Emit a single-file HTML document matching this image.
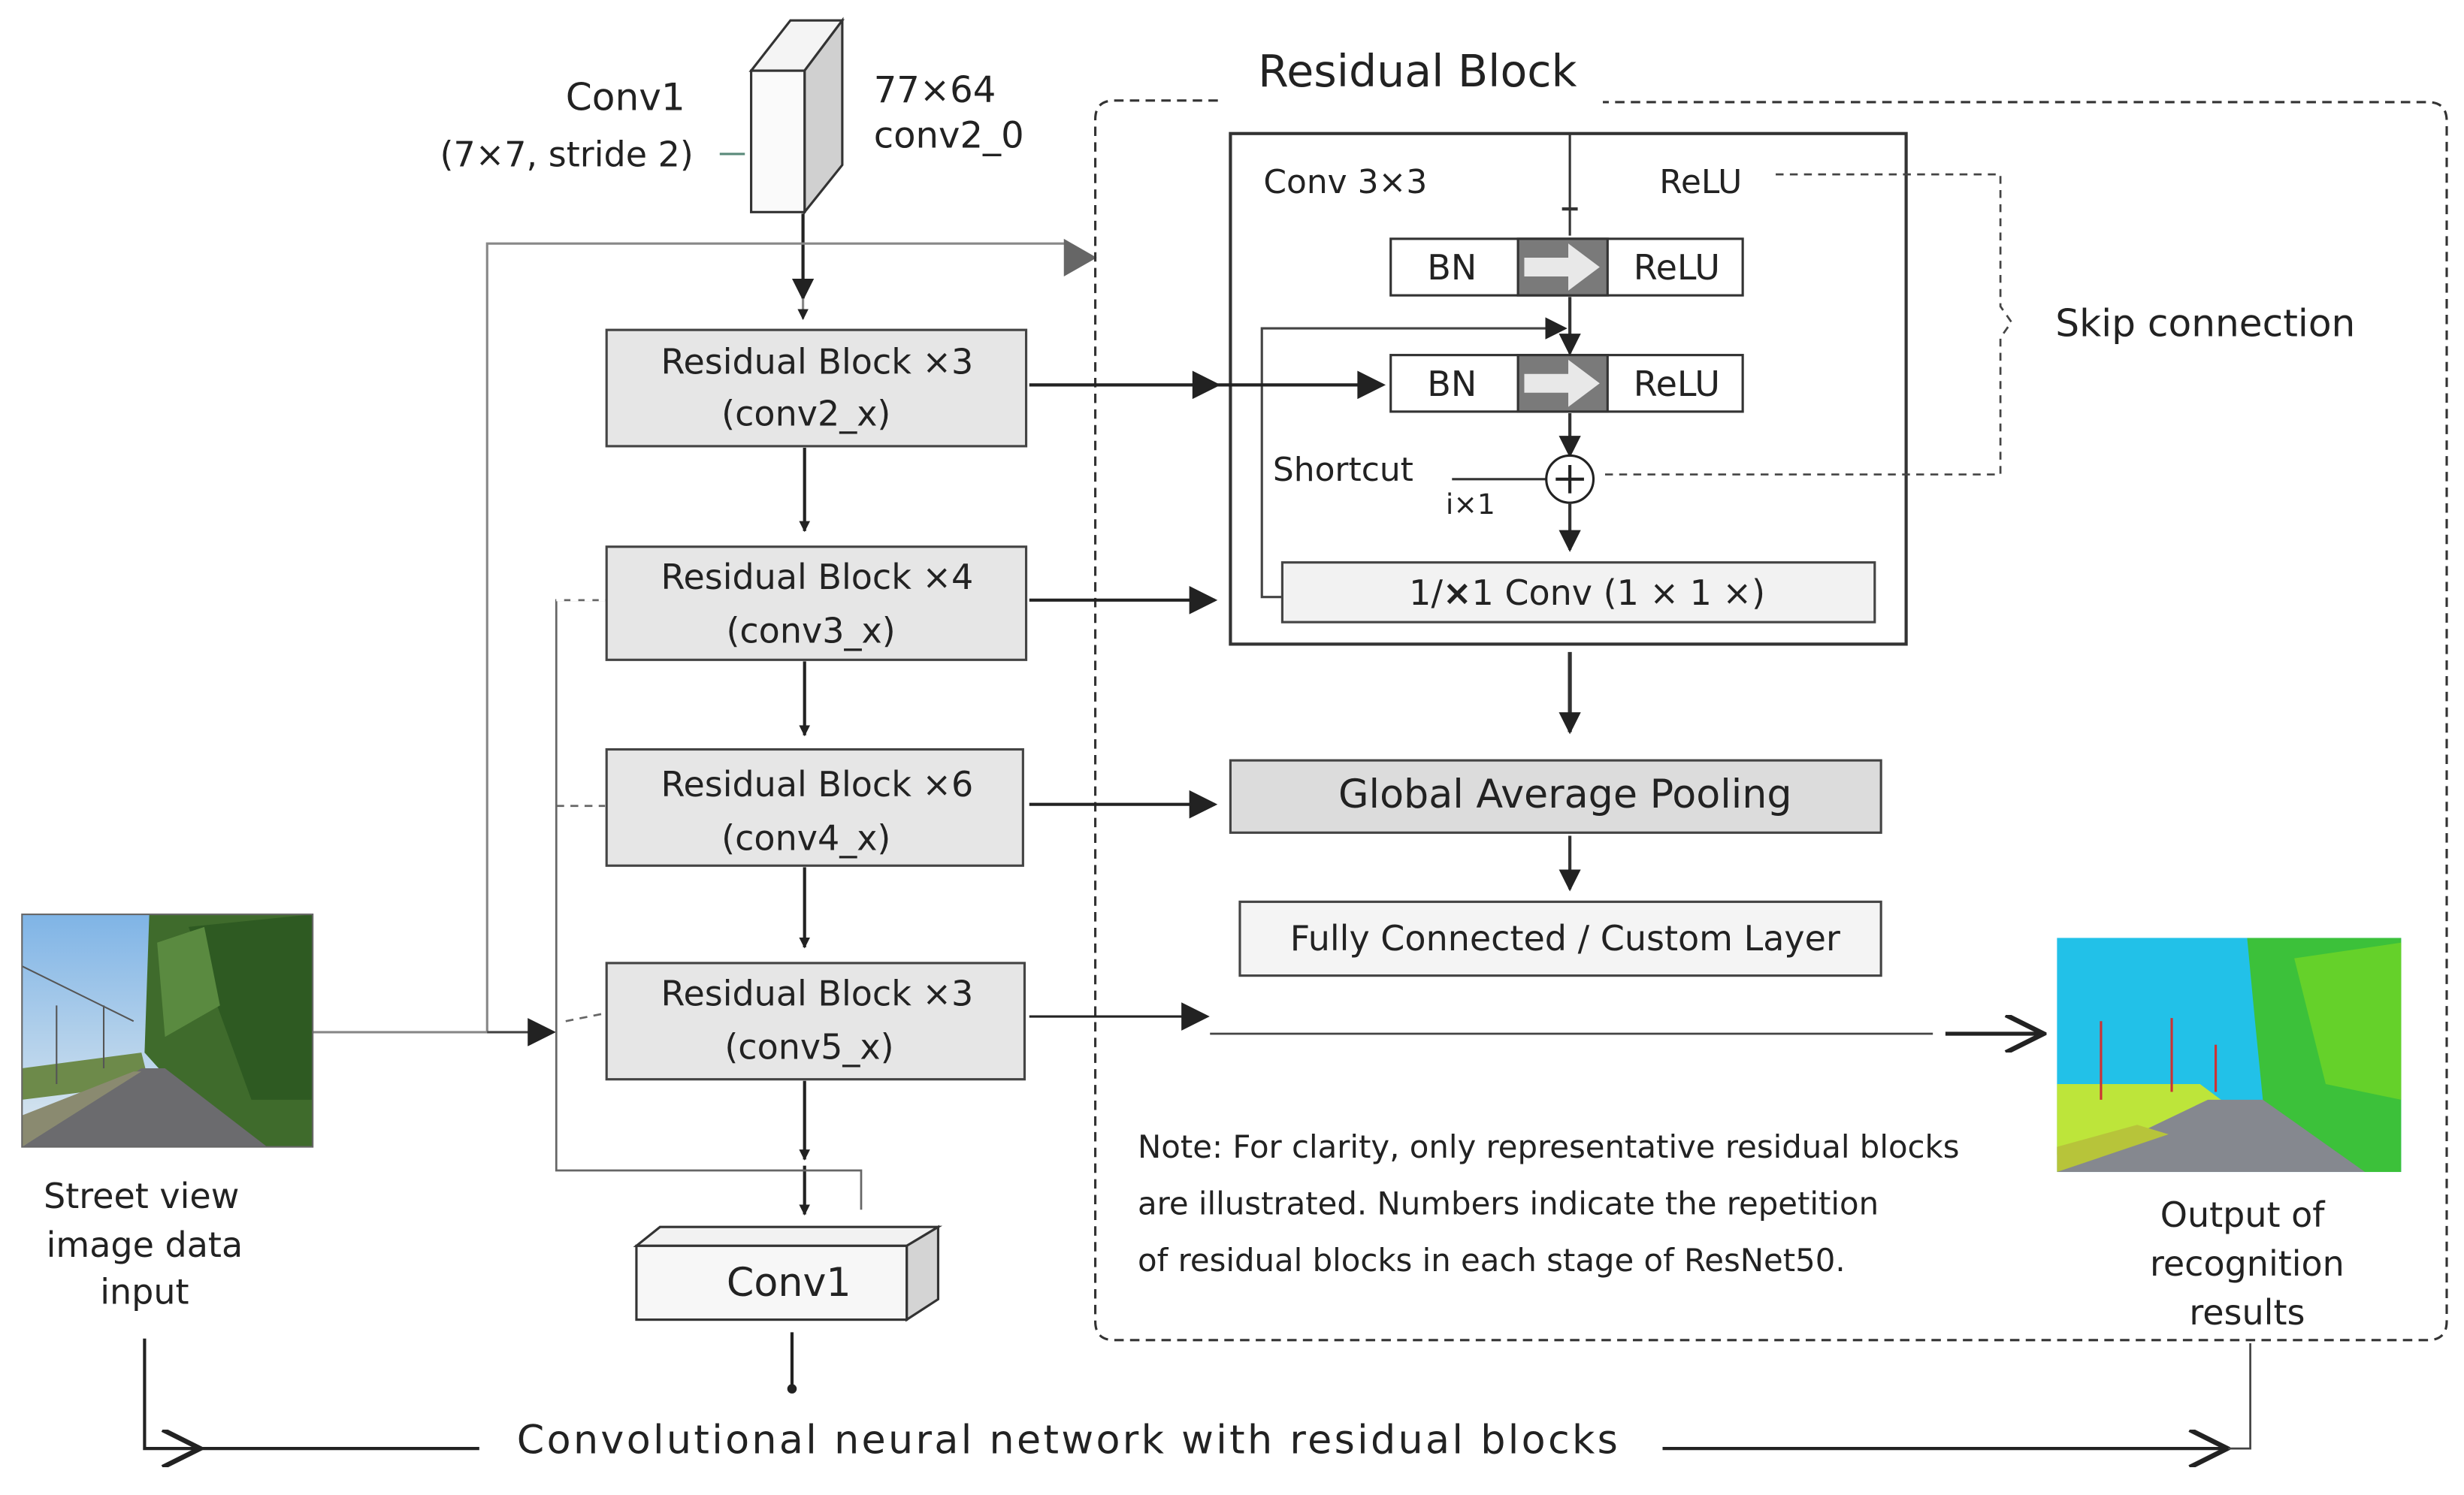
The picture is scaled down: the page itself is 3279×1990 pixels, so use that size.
<!DOCTYPE html>
<html><head><meta charset="utf-8"><style>
html,body{margin:0;padding:0;background:#fff;}
svg{display:block;}
text{font-family:"DejaVu Sans","Liberation Sans",sans-serif;fill:#222;}
</style></head><body>
<svg width="3279" height="1990" viewBox="0 0 1568 951.6" preserveAspectRatio="none" xmlns="http://www.w3.org/2000/svg">
<defs>
<marker id="a" viewBox="0 0 10 10" refX="9" refY="5" markerWidth="7" markerHeight="7" orient="auto-start-reverse" markerUnits="userSpaceOnUse"><path d="M0,0L10,5L0,10z" fill="#222"/></marker>
<marker id="A" viewBox="0 0 10 10" refX="9" refY="5" markerWidth="26" markerHeight="18" orient="auto" markerUnits="userSpaceOnUse"><path d="M0,0L10,5L0,10z" fill="#222"/></marker>
<marker id="D" viewBox="0 0 10 10" refX="9" refY="5" markerWidth="14" markerHeight="16" orient="auto" markerUnits="userSpaceOnUse"><path d="M0,0L10,5L0,10z" fill="#222"/></marker>
<marker id="O" viewBox="0 0 10 10" refX="9" refY="5" markerWidth="28" markerHeight="24" orient="auto" markerUnits="userSpaceOnUse"><path d="M0,0L10,5L0,10" fill="none" stroke="#222" stroke-width="1.3"/></marker>
<linearGradient id="sky" x1="0" y1="0" x2="0" y2="1"><stop offset="0" stop-color="#7fb4e6"/><stop offset="1" stop-color="#dfe9ef"/></linearGradient>
</defs>
<rect width="1568" height="952" fill="#fff"/>

<polygon points="478,45 503,13 536,13 512,45" fill="#f4f4f4" stroke="#333" stroke-width="1.5"/>
<polygon points="512,45 536,13 536,105 512,135" fill="#d0d0d0" stroke="#333" stroke-width="1.5"/>
<rect x="478" y="45" width="34" height="90" fill="#fafafa" stroke="#333" stroke-width="1.5"/>
<text x="398" y="70" font-size="24" text-anchor="middle">Conv1</text>
<text x="280" y="106" font-size="22">(7×7, stride 2)</text>
<line x1="458" y1="98" x2="474" y2="98" stroke="#5a8a7a" stroke-width="1.5"/>
<text x="556" y="65" font-size="23">77×64</text>
<text x="556" y="94" font-size="23">conv2_0</text>
<line x1="511" y1="136" x2="511" y2="190" stroke="#222" stroke-width="2" marker-end="url(#D)"/>
<line x1="511" y1="190" x2="511" y2="203" stroke="#888" stroke-width="1.5" marker-end="url(#a)"/>

<polyline points="199,657 310,657 310,155 680,155" fill="none" stroke="#888" stroke-width="1.5"/>
<polygon points="677,152 698,164 677,176" fill="#666"/>
<line x1="310" y1="657" x2="352" y2="657" stroke="#444" stroke-width="1.5" marker-end="url(#A)"/>

<path d="M775,64 L709,64 Q697,64 697,76 L697,841 Q697,853 709,853 L1545,853 Q1557,853 1557,841 L1557,77 Q1557,65 1545,65 L1020,65" fill="none" stroke="#333" stroke-width="1.5" stroke-dasharray="6,4"/>
<text x="902" y="55" font-size="28" text-anchor="middle">Residual Block</text>

<rect x="783" y="85" width="430" height="325" fill="#fff" stroke="#333" stroke-width="2"/>
<text x="804" y="123" font-size="21">Conv 3×3</text>
<text x="1056" y="123" font-size="21">ReLU</text>
<line x1="999" y1="85" x2="999" y2="150" stroke="#333" stroke-width="1.5"/>
<line x1="994" y1="133" x2="1004" y2="133" stroke="#333" stroke-width="2"/>
<polyline points="1130,111 1273,111 1273,195 1280,205 1273,215 1273,302 1020,302" fill="none" stroke="#444" stroke-width="1.3" stroke-dasharray="5,4"/>
<text x="1308" y="214" font-size="24">Skip connection</text>

<g stroke="#333" stroke-width="1.5">
<rect x="885" y="152" width="224" height="36" fill="#fff"/>
<rect x="966" y="152" width="57" height="36" fill="#7a7a7a"/>
<rect x="885" y="226" width="224" height="36" fill="#fff"/>
<rect x="966" y="226" width="57" height="36" fill="#7a7a7a"/>
</g>
<polygon points="970,164 998,164 998,155 1018,170 998,185 998,176 970,176" fill="#e8e8e8"/>
<polygon points="970,238 998,238 998,229 1018,244 998,259 998,250 970,250" fill="#e8e8e8"/>
<text x="924" y="178" font-size="22" text-anchor="middle">BN</text>
<text x="1067" y="178" font-size="22" text-anchor="middle">ReLU</text>
<text x="924" y="252" font-size="22" text-anchor="middle">BN</text>
<text x="1067" y="252" font-size="22" text-anchor="middle">ReLU</text>
<line x1="999" y1="189" x2="999" y2="225" stroke="#333" stroke-width="2" marker-end="url(#D)"/>
<polyline points="816,380 803,380 803,209 996,209" fill="none" stroke="#444" stroke-width="1.5" marker-end="url(#D)"/>
<line x1="999" y1="263" x2="999" y2="290" stroke="#333" stroke-width="2" marker-end="url(#D)"/>
<text x="810" y="306" font-size="21">Shortcut</text>
<text x="920" y="327" font-size="18">i×1</text>
<line x1="924" y1="305" x2="985" y2="305" stroke="#333" stroke-width="1.5"/>
<circle cx="999" cy="305" r="15" fill="#fff" stroke="#222" stroke-width="1.5"/>
<line x1="990" y1="305" x2="1008" y2="305" stroke="#222" stroke-width="2"/>
<line x1="999" y1="296" x2="999" y2="314" stroke="#222" stroke-width="2"/>
<line x1="999" y1="320" x2="999" y2="350" stroke="#333" stroke-width="2" marker-end="url(#D)"/>
<rect x="816" y="358" width="377" height="38" fill="#f2f2f2" stroke="#444" stroke-width="1.5"/>
<text x="1010" y="385" font-size="22" text-anchor="middle">1/<tspan font-weight="bold">×</tspan>1 Conv (1 × 1 ×)</text>

<line x1="999" y1="415" x2="999" y2="466" stroke="#333" stroke-width="2.5" marker-end="url(#D)"/>
<rect x="783" y="484" width="414" height="46" fill="#dcdcdc" stroke="#444" stroke-width="1.5"/>
<text x="996" y="514" font-size="25" text-anchor="middle">Global Average Pooling</text>
<line x1="999" y1="532" x2="999" y2="566" stroke="#333" stroke-width="2" marker-end="url(#D)"/>
<rect x="789" y="574" width="408" height="47" fill="#f4f4f4" stroke="#444" stroke-width="1.5"/>
<text x="996" y="605" font-size="22" text-anchor="middle">Fully Connected / Custom Layer</text>

<g stroke="#444" stroke-width="1.5" fill="#e6e6e6">
<rect x="386" y="210" width="267" height="74"/>
<rect x="386" y="348" width="267" height="72"/>
<rect x="386" y="477" width="265" height="74"/>
<rect x="386" y="613" width="266" height="74"/>
</g>
<g font-size="22" text-anchor="middle">
<text x="520" y="238">Residual Block ×3</text><text x="513" y="271">(conv2_x)</text>
<text x="520" y="375">Residual Block ×4</text><text x="516" y="409">(conv3_x)</text>
<text x="520" y="507">Residual Block ×6</text><text x="513" y="541">(conv4_x)</text>
<text x="520" y="640">Residual Block ×3</text><text x="515" y="674">(conv5_x)</text>
</g>
<g stroke="#222" stroke-width="2">
<line x1="512" y1="285" x2="512" y2="338" marker-end="url(#a)"/>
<line x1="512" y1="421" x2="512" y2="468" marker-end="url(#a)"/>
<line x1="512" y1="552" x2="512" y2="603" marker-end="url(#a)"/>
<line x1="512" y1="688" x2="512" y2="738" marker-end="url(#a)"/>
<line x1="512" y1="742" x2="512" y2="773" marker-end="url(#a)"/>
<line x1="655" y1="245" x2="775" y2="245" marker-end="url(#A)"/>
<line x1="775" y1="245" x2="880" y2="245" marker-end="url(#A)"/>
<line x1="655" y1="382" x2="773" y2="382" marker-end="url(#A)"/>
<line x1="655" y1="512" x2="773" y2="512" marker-end="url(#A)"/>
<line x1="655" y1="647" x2="768" y2="647" stroke-width="1.5" marker-end="url(#A)"/>
</g>
<line x1="770" y1="658" x2="1230" y2="658" stroke="#444" stroke-width="1.3"/>
<line x1="1238" y1="658" x2="1298" y2="658" stroke="#222" stroke-width="2.5" marker-end="url(#O)"/>
<polyline points="385,382 354,382 354,745 548,745 548,770" fill="none" stroke="#666" stroke-width="1.3"/>
<line x1="354" y1="382" x2="385" y2="382" stroke="#fff" stroke-width="1.5" stroke-dasharray="5,4"/>
<line x1="354" y1="513" x2="385" y2="513" stroke="#666" stroke-width="1.3" stroke-dasharray="5,4"/>
<line x1="360" y1="650" x2="385" y2="645" stroke="#666" stroke-width="1.3" stroke-dasharray="5,4"/>

<polygon points="405,793 420,781 597,781 577,793" fill="#f2f2f2" stroke="#333" stroke-width="1.5"/>
<polygon points="577,793 597,781 597,827 577,840" fill="#d4d4d4" stroke="#333" stroke-width="1.5"/>
<rect x="405" y="793" width="172" height="47" fill="#f7f7f7" stroke="#333" stroke-width="1.5"/>
<text x="502" y="825" font-size="25" text-anchor="middle">Conv1</text>
<line x1="504" y1="848" x2="504" y2="884" stroke="#222" stroke-width="2"/>
<circle cx="504" cy="884" r="3" fill="#222"/>

<rect x="14" y="582" width="185" height="148" fill="url(#sky)"/>
<polygon points="95,582 199,582 199,730 150,730 110,690 92,670" fill="#3f6b2c"/>
<polygon points="120,590 199,582 199,700 160,700" fill="#2e5a22"/>
<polygon points="100,600 130,590 140,640 105,660" fill="#5a8a40"/>
<polygon points="14,680 90,670 95,690 14,700" fill="#6d8a4a"/>
<polygon points="14,730 90,680 105,680 170,730" fill="#6b6b6e"/>
<polygon points="14,730 14,710 85,682 90,682" fill="#8a8a70"/>
<g stroke="#555" stroke-width="1"><line x1="36" y1="640" x2="36" y2="690"/><line x1="66" y1="640" x2="66" y2="680"/><line x1="14" y1="615" x2="85" y2="650"/></g>
<rect x="14" y="582" width="185" height="148" fill="none" stroke="#666" stroke-width="1"/>
<g font-size="22" text-anchor="middle"><text x="90" y="769">Street view</text><text x="92" y="800">image data</text><text x="92" y="830">input</text></g>

<rect x="1309" y="597" width="219" height="149" fill="#22c1e8"/>
<polygon points="1430,597 1528,597 1528,746 1480,746 1440,700 1435,650" fill="#3cc13a"/>
<polygon points="1460,610 1528,600 1528,700 1480,690" fill="#65d12a"/>
<polygon points="1309,690 1400,690 1420,705 1309,735" fill="#bde53a"/>
<polygon points="1309,746 1405,700 1440,700 1505,746" fill="#85888f"/>
<polygon points="1309,746 1309,730 1360,716 1380,722" fill="#b7c43a"/>
<g stroke="#c33" stroke-width="1.5"><line x1="1337" y1="650" x2="1337" y2="700"/><line x1="1382" y1="648" x2="1382" y2="695"/><line x1="1410" y1="665" x2="1410" y2="695"/></g>
<g font-size="22" text-anchor="middle"><text x="1427" y="781">Output of</text><text x="1430" y="812">recognition</text><text x="1430" y="843">results</text></g>

<g font-size="20"><text x="724" y="737">Note: For clarity, only representative residual blocks</text><text x="724" y="773">are illustrated. Numbers indicate the repetition</text><text x="724" y="809">of residual blocks in each stage of ResNet50.</text></g>

<polyline points="92,852 92,922 125,922" fill="none" stroke="#222" stroke-width="2" marker-end="url(#O)"/>
<line x1="125" y1="922" x2="305" y2="922" stroke="#222" stroke-width="2"/>
<text x="680" y="925" font-size="25" text-anchor="middle" letter-spacing="1.6">Convolutional neural network with residual blocks</text>
<line x1="1058" y1="922" x2="1415" y2="922" stroke="#222" stroke-width="2" marker-end="url(#O)"/>
<polyline points="1418,922 1432,922 1432,855" fill="none" stroke="#444" stroke-width="1.3"/>
</svg>
</body></html>
